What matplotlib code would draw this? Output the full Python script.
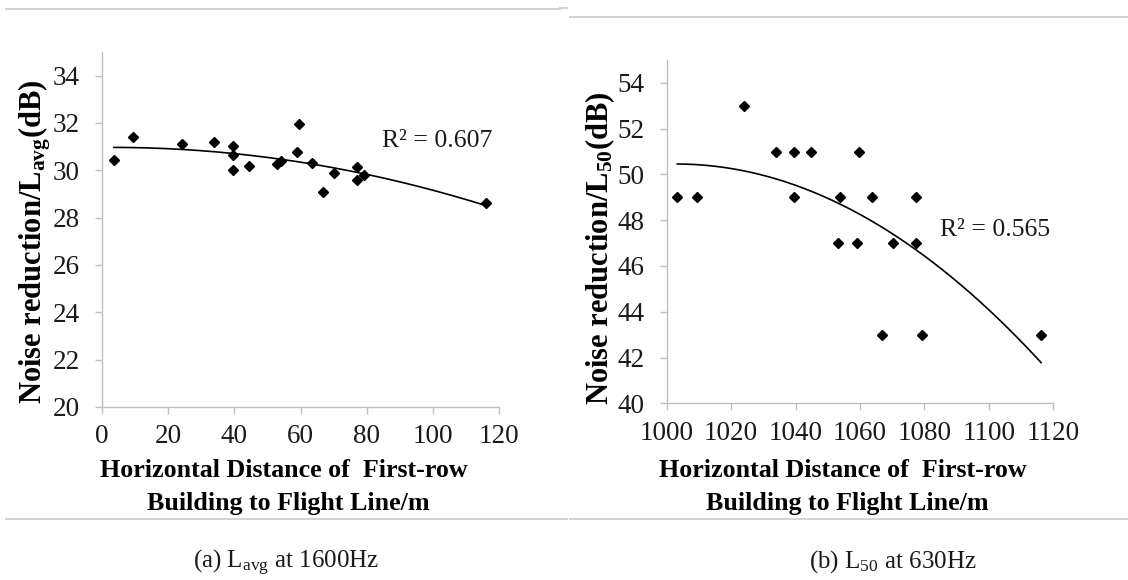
import matplotlib
matplotlib.use("Agg")
import matplotlib.pyplot as plt
from matplotlib.lines import Line2D
import numpy as np

plt.rcParams['font.family'] = ['Liberation Serif', 'DejaVu Serif']
plt.rcParams['mathtext.default'] = 'regular'

# (a) L_avg at 1600Hz
dist_a = [3.6, 9.5, 24.1, 33.9, 39.5, 39.5, 39.5, 44.5, 52.8, 54.0,
          59.5, 59.0, 63.5, 66.7, 70.1, 77.2, 77.2, 79.3, 116.2]
nr_a = [30.45, 31.41, 31.13, 31.20, 31.01, 30.63, 30.00, 30.17, 30.25, 30.40,
        31.97, 30.76, 30.31, 29.08, 29.89, 30.14, 29.60, 29.79, 28.62]

# (b) L50 at 630Hz
dist_b = [1003.3, 1009.5, 1023.9, 1033.9, 1039.6, 1039.6, 1044.7, 1053.9, 1053.3,
          1059.0, 1059.7, 1063.7, 1070.2, 1077.4, 1077.4, 1066.8, 1079.3, 1116.2]
nr_b = [49, 49, 53, 51, 51, 49, 51, 49, 47,
        47, 51, 49, 47, 49, 47, 43, 43, 43]

r2_a = "R\u00b2 = 0.607"
r2_b = "R\u00b2 = 0.565"

W, H = 1128, 580
fig = plt.figure(figsize=(W / 100, H / 100), dpi=100)

grey = '#d4d4d4'
axis_grey = '#bfbfbf'
ink = '#1a1a1a'


def panel(rect, x, y, xlim, xticks, ylim, yticks, r2, r2pos):
    ax = fig.add_axes(rect)
    ax.plot(x, y, 'D', color='black', markersize=5.2, zorder=3)
    # second order polynomial trend
    c = np.polyfit(x, y, 2)
    xs = np.linspace(min(x), max(x), 200)
    ax.plot(xs, np.polyval(c, xs), color='black', lw=1.2)
    ax.set_xlim(*xlim)
    ax.set_ylim(*ylim)
    ax.set_xticks(xticks)
    ax.set_yticks(yticks)
    for s in ['top', 'right']:
        ax.spines[s].set_visible(False)
    for s in ['left', 'bottom']:
        ax.spines[s].set_color(axis_grey)
        ax.spines[s].set_linewidth(1.0)
    ax.tick_params(direction='out', length=5, width=1.0, color=axis_grey,
                   labelsize=19.5, labelcolor=ink)
    ax.tick_params(axis='x', pad=7.5)
    ax.tick_params(axis='y', pad=11)
    ax.text(r2pos[0], r2pos[1], r2, fontsize=18.5, color=ink)
    return ax


ax1 = panel([102 / W, 1 - 407 / H, 397 / W, 355 / H], dist_a, nr_a,
            (0, 120), range(0, 121, 20), (20, 35), range(20, 35, 2),
            r2_a, (84.6, 31.0))
ax2 = panel([666.7 / W, 1 - 403.3 / H, 386.6 / W, 343.3 / H], dist_b, nr_b,
            (1000, 1120), range(1000, 1121, 20), (40, 55), range(40, 55, 2),
            r2_b, (1084.9, 47.3))

# axis titles
line1 = "Horizontal Distance of  First-row"
line2 = "Building to Flight Line/m"
for cx1, cx2 in [(283.5, 288), (843, 847)]:
    fig.text(cx1 / W, 1 - 477 / H, line1, ha='center', va='baseline',
             fontsize=18.7, fontweight='bold', color='black')
    fig.text(cx2 / W, 1 - 510 / H, line2, ha='center', va='baseline',
             fontsize=18.7, fontweight='bold', color='black')

fig.text(35 / W, 1 - 242 / H, "Noise reduction/L$_{avg}$(dB)", rotation=90,
         ha='center', va='center', fontsize=22, fontweight='bold')
fig.text(600 / W, 1 - 248 / H, "Noise reduction/L$_{50}$(dB)", rotation=90,
         ha='center', va='center', fontsize=22, fontweight='bold')

# captions
fig.text(286.5 / W, 1 - 568 / H, "(a) L$_{avg}$ at 1600Hz", ha='center',
         va='baseline', fontsize=18, color=ink)
fig.text(892.5 / W, 1 - 568 / H, "(b) L$_{50}$ at 630Hz", ha='center',
         va='baseline', fontsize=18, color=ink)

# table rules
for (x0, x1, yy) in [(6, 560, 9), (560, 567, 8), (570, 1128, 17),
                     (6, 567, 519), (570, 1128, 519)]:
    fig.add_artist(Line2D([x0 / W, x1 / W], [1 - yy / H, 1 - yy / H],
                          transform=fig.transFigure, color=grey, lw=1.5))

fig.savefig('out.png', dpi=100)
